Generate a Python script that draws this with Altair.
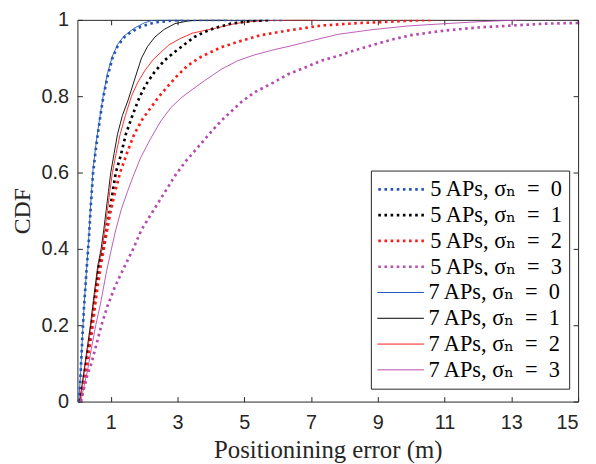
import altair as alt
import pandas as pd

EQ = "\u2002=\u2002"
series_names = ["5 APs, σₙ" + EQ + "0", "5 APs, σₙ" + EQ + "1", "5 APs, σₙ" + EQ + "2", "5 APs, σₙ" + EQ + "3",
                "7 APs, σₙ" + EQ + "0", "7 APs, σₙ" + EQ + "1", "7 APs, σₙ" + EQ + "2", "7 APs, σₙ" + EQ + "3"]
series_colors = ["#2457b5", "#000000", "#ff1a1a", "#b54bb0",
                 "#2457b5", "#000000", "#ff1a1a", "#b54bb0"]

x_ticks = [1, 3, 5, 7, 9, 11, 13, 15]
y_ticks = [0, 0.2, 0.4, 0.6, 0.8, 1]

# 5 APs, sigma 0
x1 = [0.05, 0.1, 0.15, 0.2, 0.27, 0.34, 0.4, 0.47, 0.55, 0.62, 0.7, 0.78, 0.9, 1.05, 1.2, 1.37, 1.6, 1.9, 2.3, 2.8, 3.5, 4.5, 5.5, 6.2]
y1 = [0, 0.08, 0.17, 0.25, 0.34, 0.42, 0.51, 0.6, 0.66, 0.706, 0.755, 0.8, 0.85, 0.9, 0.93, 0.952, 0.968, 0.982, 0.993, 0.998, 1, 1, 1, 1]
# 5 APs, sigma 1
x2 = [0.08, 0.17, 0.26, 0.35, 0.43, 0.54, 0.65, 0.78, 0.88, 0.97, 1.06, 1.15, 1.3, 1.45, 1.65, 1.85, 2.05, 2.3, 2.6, 2.9, 3.2, 3.5, 3.8, 4.1, 4.6, 5.2, 5.8]
y2 = [0, 0.05, 0.1, 0.15, 0.2, 0.28, 0.355, 0.4, 0.45, 0.5, 0.55, 0.6, 0.645, 0.7, 0.75, 0.795, 0.83, 0.862, 0.893, 0.915, 0.935, 0.955, 0.968, 0.978, 0.99, 0.997, 1]
# 5 APs, sigma 2
x3 = [0.1, 0.2, 0.3, 0.38, 0.46, 0.57, 0.7, 0.79, 0.89, 1.0, 1.13, 1.28, 1.48, 1.7, 1.95, 2.2, 2.45, 2.7, 2.95, 3.3, 3.7, 4.3, 4.9, 5.5, 6.3, 7.3, 8.3, 9.3, 10.0, 10.7]
y3 = [0, 0.05, 0.1, 0.15, 0.2, 0.28, 0.355, 0.4, 0.45, 0.5, 0.55, 0.6, 0.65, 0.7, 0.74, 0.77, 0.8, 0.825, 0.85, 0.88, 0.903, 0.928, 0.945, 0.96, 0.972, 0.985, 0.991, 0.995, 0.998, 1]
# 5 APs, sigma 3
x4 = [0.1, 0.2, 0.3, 0.42, 0.57, 0.72, 0.9, 1.12, 1.42, 1.67, 1.92, 2.2, 2.45, 2.7, 2.95, 3.25, 3.6, 3.94, 4.3, 4.9, 5.3, 5.9, 6.3, 6.9, 7.3, 7.9, 8.3, 9.0, 9.5, 10.0, 11.0, 12.0, 13.0, 14.0, 15.0]
y4 = [0, 0.035, 0.07, 0.1, 0.15, 0.2, 0.25, 0.3, 0.355, 0.4, 0.45, 0.49, 0.525, 0.56, 0.595, 0.63, 0.665, 0.7, 0.735, 0.784, 0.81, 0.837, 0.857, 0.878, 0.893, 0.908, 0.92, 0.938, 0.95, 0.96, 0.972, 0.98, 0.985, 0.99, 0.992]
# 7 APs, sigma 0
x5 = [0.04, 0.1, 0.15, 0.2, 0.27, 0.34, 0.4, 0.47, 0.55, 0.62, 0.7, 0.78, 0.9, 1.05, 1.2, 1.4, 1.7, 2.0, 2.25, 2.6, 3.2]
y5 = [0, 0.08, 0.17, 0.25, 0.34, 0.43, 0.52, 0.61, 0.67, 0.715, 0.76, 0.805, 0.86, 0.905, 0.935, 0.958, 0.978, 0.992, 0.999, 1, 1]
# 7 APs, sigma 1
x6 = [0.07, 0.15, 0.23, 0.31, 0.39, 0.5, 0.61, 0.71, 0.79, 0.86, 0.93, 1.0, 1.1, 1.2, 1.35, 1.52, 1.7, 1.92, 2.1, 2.32, 2.6, 2.92, 3.3, 3.72, 4.5]
y6 = [0, 0.05, 0.1, 0.15, 0.2, 0.28, 0.355, 0.4, 0.45, 0.5, 0.55, 0.6, 0.65, 0.7, 0.75, 0.79, 0.84, 0.9, 0.93, 0.955, 0.975, 0.99, 0.997, 1, 1]
# 7 APs, sigma 2
x7 = [0.07, 0.16, 0.24, 0.33, 0.41, 0.52, 0.63, 0.74, 0.82, 0.9, 0.97, 1.05, 1.16, 1.28, 1.44, 1.62, 1.8, 2.02, 2.26, 2.5, 2.75, 3.1, 3.44, 3.8, 4.23, 4.6, 5.0, 5.6, 6.5, 7.2]
y7 = [0, 0.05, 0.1, 0.15, 0.2, 0.28, 0.355, 0.4, 0.45, 0.5, 0.55, 0.6, 0.65, 0.7, 0.75, 0.8, 0.835, 0.867, 0.895, 0.915, 0.935, 0.952, 0.965, 0.972, 0.98, 0.988, 0.994, 0.998, 1, 1]
# 7 APs, sigma 3
x8 = [0.1, 0.2, 0.3, 0.4, 0.55, 0.7, 0.87, 1.02, 1.15, 1.32, 1.5, 1.67, 1.9, 2.2, 2.5, 2.8, 3.1, 3.4, 3.8, 4.3, 4.8, 5.3, 5.9, 6.4, 7.0, 7.8, 8.8, 9.9, 11.0, 12.0, 13.3]
y8 = [0, 0.04, 0.08, 0.13, 0.2, 0.26, 0.34, 0.4, 0.45, 0.505, 0.55, 0.59, 0.64, 0.69, 0.735, 0.77, 0.795, 0.815, 0.84, 0.87, 0.893, 0.908, 0.922, 0.932, 0.945, 0.962, 0.974, 0.984, 0.99, 0.995, 1.0]

all_x = [x1, x2, x3, x4, x5, x6, x7, x8]
all_y = [y1, y2, y3, y4, y5, y6, y7, y8]


def frame(indices):
    rows = []
    for k in indices:
        for i, (xv, yv) in enumerate(zip(all_x[k], all_y[k])):
            rows.append({"series": series_names[k], "err": xv, "cdf": yv, "idx": i})
    return pd.DataFrame(rows)


df5 = frame([0, 1, 2, 3])
df7 = frame([4, 5, 6, 7])
df_all = frame(range(8))

SERIF = "Liberation Serif, Times New Roman, DejaVu Serif, serif"
SANS = "Liberation Sans, Arial, Helvetica, DejaVu Sans, sans-serif"

W, H = 505, 385
AX = "#262626"
DASH = [2.6, 3.6]
xs = alt.Scale(domain=[0, 15], nice=False, zero=False)
ys = alt.Scale(domain=[0, 1], nice=False)

LX, LY = 296, 152
ROW = 26
common_leg = dict(
    title=None, orient="none", cornerRadius=0,
    labelFont=SERIF, labelFontSize=22.5, labelColor="black", labelLimit=400,
    symbolType="stroke", symbolSize=2209, clipHeight=ROW, rowPadding=0,
    labelOffset=4, symbolOpacity=1,
)
legend_dotted = alt.Legend(legendX=LX, legendY=LY, padding=6, strokeColor=AX,
                           fillColor="white", symbolStrokeWidth=2.7,
                           symbolDash=DASH, zindex=1,
                           labelExpr="indexof(datum.label, '7 APs') === 0 ? '' : datum.label",
                           **common_leg)
legend_solid = alt.Legend(legendX=LX + 2, legendY=LY + 4 * ROW + 2, padding=4,
                          fillColor="white", symbolStrokeWidth=1, zindex=2,
                          **common_leg)

x_main = alt.X("err:Q", scale=xs, axis=alt.Axis(
    orient="bottom", values=x_ticks, ticks=False, grid=False, domain=False,
    labelFont=SANS, labelFontSize=20, labelColor=AX, labelPadding=11,
    title="Positionining error (m)", titleFont=SERIF, titleFontSize=25,
    titleFontWeight="normal", titleColor=AX, titlePadding=5))
y_main = alt.Y("cdf:Q", scale=ys, axis=alt.Axis(
    orient="left", values=y_ticks, format="~g", ticks=False, grid=False, domain=False,
    labelFont=SANS, labelFontSize=20, labelColor=AX, labelPadding=9,
    title="CDF", titleFont=SERIF, titleFontSize=24,
    titleFontWeight="normal", titleColor=AX, titlePadding=7))

solid = alt.Chart(df7).mark_line(clip=True, strokeWidth=0.9).encode(
    x=x_main, y=y_main,
    color=alt.Color("series:N", scale=alt.Scale(domain=series_names[4:], range=series_colors[4:]),
                    legend=legend_solid, title=None),
    order=alt.Order("idx:Q"),
)

dotted = alt.Chart(df5).mark_line(clip=True, strokeWidth=2.7, strokeDash=DASH, strokeCap="butt").encode(
    x=alt.X("err:Q", scale=xs, axis=None),
    y=alt.Y("cdf:Q", scale=ys, axis=None),
    color=alt.Color("series:N", scale=alt.Scale(domain=series_names, range=series_colors),
                    legend=legend_dotted, title=None),
    order=alt.Order("idx:Q"),
)

tick_kw = dict(labels=False, domain=False, grid=False, ticks=True, tickSize=5,
               tickColor=AX, tickWidth=1, title=None)

ticks_a = alt.Chart(df_all).mark_point(opacity=0, size=1).encode(
    x=alt.X("err:Q", scale=xs, axis=alt.Axis(orient="top", offset=-H, values=x_ticks, **tick_kw)),
    y=alt.Y("cdf:Q", scale=ys, axis=alt.Axis(orient="right", offset=-W, values=y_ticks, **tick_kw)),
)
ticks_b = alt.Chart(df_all).mark_point(opacity=0, size=1).encode(
    x=alt.X("err:Q", scale=xs, axis=alt.Axis(orient="bottom", offset=-H, values=x_ticks, **tick_kw)),
    y=alt.Y("cdf:Q", scale=ys, axis=alt.Axis(orient="left", offset=-W, values=y_ticks, **tick_kw)),
)

chart = alt.layer(solid, dotted, ticks_a, ticks_b).resolve_scale(
    color="independent"
).resolve_axis(
    x="independent", y="independent"
).properties(
    width=W, height=H,
    autosize=alt.AutoSizeParams(type="none"),
    padding={"left": 70, "top": 10, "right": 10, "bottom": 61},
    background="white",
).configure_view(stroke=AX, strokeWidth=1)

chart.save("out.html", embed_options={"renderer": "svg", "actions": False})
